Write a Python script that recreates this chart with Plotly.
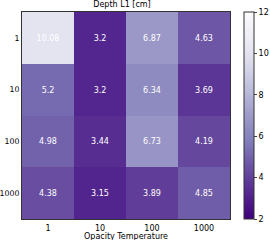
import plotly.graph_objects as go

x_labels = ["1", "10", "100", "1000"]
y_labels = ["1", "10", "100", "1000"]
values = [
    [10.08, 3.2, 6.87, 4.63],
    [5.2, 3.2, 6.34, 3.69],
    [4.98, 3.44, 6.73, 4.19],
    [4.38, 3.15, 3.89, 4.85],
]
title = "Depth L1 [cm]"
x_title = "Opacity Temperature"

purples_r = [
    [0.0, "#3f007d"], [0.125, "#54278f"], [0.25, "#6a51a3"], [0.375, "#807dba"],
    [0.5, "#9e9ac8"], [0.625, "#bcbddc"], [0.75, "#dadaeb"], [0.875, "#efedf5"],
    [1.0, "#fcfbfd"],
]

font = "DejaVu Sans"
fig = go.Figure(go.Heatmap(
    z=values, x=x_labels, y=y_labels,
    colorscale=purples_r, zmin=2, zmax=12,
    text=[[f"{v:g}" for v in row] for row in values],
    texttemplate="%{text}", textfont=dict(color="white", size=8, family=font),
    xgap=0, ygap=0, hoverinfo="skip",
    colorbar=dict(
        x=244 / 270, xanchor="left", xref="container", y=0.5, yanchor="middle",
        len=1.0, lenmode="fraction", thickness=10,
        outlinewidth=1, outlinecolor="#333", xpad=0, ypad=0,
        tickvals=[2, 4, 6, 8, 10, 12], ticks="outside", ticklen=3,
        tickfont=dict(size=8, family=font, color="black"),
    ),
))
fig.update_layout(
    width=270, height=240,
    margin=dict(l=22, r=40, t=12, b=21),
    paper_bgcolor="white", plot_bgcolor="white",
    font=dict(family=font, size=8, color="black"),
    title=dict(text=title, x=122 / 270, xanchor="center", y=0.995, yanchor="top",
               font=dict(size=8, family=font)),
    xaxis=dict(type="category", automargin=False,
               showline=True, linecolor="#333", linewidth=1, mirror=True,
               ticks="", ticklabelstandoff=1),
    yaxis=dict(type="category", autorange="reversed", automargin=False,
               showline=True, linecolor="#333", linewidth=1, mirror=True,
               ticks="", ticklabelstandoff=0, tickfont=dict(size=7.8)),
    annotations=[dict(text=x_title, xref="paper", yref="paper", x=0.5, y=0,
                      xanchor="center", yanchor="top", yshift=-11, showarrow=False,
                      font=dict(size=8, family=font))],
)
fig.write_html("out.html", config={"displayModeBar": False},
               post_script="document.body.style.margin='0';document.body.style.overflow='hidden';")
